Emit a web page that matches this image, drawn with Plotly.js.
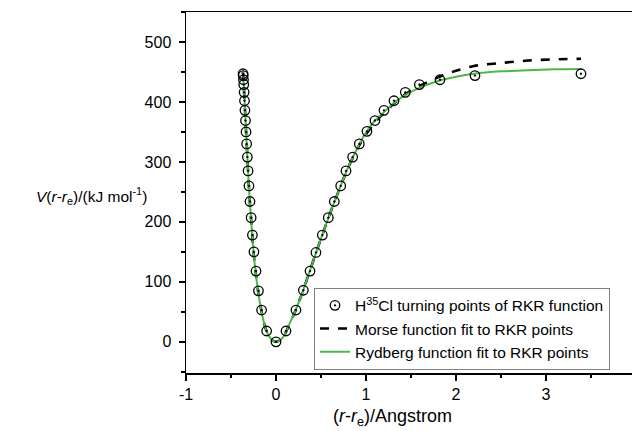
<!DOCTYPE html>
<html>
<head>
<meta charset="utf-8">
<script src="https://cdn.plot.ly/plotly-3.0.1.min.js"></script>
<style>html,body{margin:0;padding:0;overflow:hidden;background:#fff;}</style>
</head>
<body>
<div id="chart" style="width:632px;height:431px;"></div>
<script>
// RKR turning points (inner branch, minimum, outer branch)
const innerX = [-0.366, -0.364, -0.361, -0.358, -0.354, -0.350, -0.345, -0.339, -0.333, -0.326, -0.318, -0.310, -0.300, -0.289, -0.276, -0.262, -0.245, -0.222, -0.195, -0.160, -0.104];
const innerV = [447, 444, 437, 429, 416, 402, 386, 369, 350, 330, 308, 285, 260, 234, 207, 178, 150, 118, 85, 53, 18];
const minX = [0];
const minV = [0];
const outerX = [0.111, 0.222, 0.304, 0.378, 0.444, 0.515, 0.581, 0.648, 0.719, 0.778, 0.852, 0.926, 1.011, 1.100, 1.200, 1.311, 1.437, 1.593, 1.822, 2.211, 3.389];
const outerV = [18, 53, 86, 118, 149, 178, 207, 234, 260, 285, 308, 330, 351, 369, 386, 402, 416, 429, 437, 444, 447];

// Fitted curves
const curveX = [-0.368, -0.364, -0.360, -0.355, -0.348, -0.340, -0.330, -0.318, -0.305, -0.290, -0.272, -0.250, -0.225, -0.195, -0.160, -0.120, -0.080, -0.040, 0, 0.05, 0.10, 0.15, 0.20, 0.25, 0.30, 0.40, 0.50, 0.60, 0.70, 0.80, 0.90, 1.00, 1.10, 1.20, 1.30, 1.40, 1.50, 1.60, 1.80, 2.00, 2.20, 2.50, 2.80, 3.10, 3.39];
const rydbergV = [450, 444, 433, 418, 398, 374, 344, 308, 270, 232, 195, 150, 115, 80, 50, 24, 10, 2.5, 0, 3, 13, 30, 46, 65, 85, 129, 172, 214, 253, 290, 322, 349, 369, 383, 397, 408, 417, 424, 435, 442, 447, 451, 453, 454.5, 455];
const morseV = [450, 444, 433, 418, 398, 374, 344, 308, 270, 232, 195, 150, 115, 80, 50, 24, 10, 2.5, 0, 3, 13, 30, 46, 65, 85, 129, 172, 214, 253, 290, 321, 346, 366, 382, 396, 409, 419, 427, 441, 452, 460, 465, 469, 471, 472];

const legendNames = ["H<sup>35</sup>Cl turning points of RKR function", "Morse function fit to RKR points", "Rydberg function fit to RKR points"];

const pointsX = innerX.concat(minX, outerX);
const pointsV = innerV.concat(minV, outerV);

const FONT = "Liberation Sans, Arial, sans-serif";

const traces = [
  {
    x: curveX, y: morseV, mode: "lines", name: legendNames[1], legendrank: 2,
    line: {color: "#000000", width: 2.6, dash: "dash", shape: "spline", smoothing: 0.6}
  },
  {
    x: curveX, y: rydbergV, mode: "lines", name: legendNames[2], legendrank: 3,
    line: {color: "#4db848", width: 2, shape: "spline", smoothing: 0.6}
  },
  {
    x: pointsX, y: pointsV, mode: "markers", name: legendNames[0], legendrank: 1,
    marker: {symbol: "circle-open-dot", size: 9.5, color: "#000000", line: {width: 1.3, color: "#000000"}}
  }
];

const layout = {
  width: 632, height: 431,
  margin: {l: 186, r: 0, t: 12, b: 58, pad: 0},
  paper_bgcolor: "#ffffff", plot_bgcolor: "#ffffff",
  font: {family: FONT, size: 16, color: "#000000"},
  showlegend: true,
  legend: {
    x: 0.287, y: 0.009, xanchor: "left", yanchor: "bottom",
    bgcolor: "#ffffff", bordercolor: "#808080", borderwidth: 1,
    font: {family: FONT, size: 15.5, color: "#000000"},
    tracegroupgap: 0, itemwidth: 30
  },
  xaxis: {
    range: [-1, 3.956], tickvals: [-1, 0, 1, 2, 3, 4], ticktext: ["-1", "0", "1", "2", "3", "4"],
    ticks: "outside", ticklen: 6, tickwidth: 1.5, tickcolor: "#000",
    showline: true, linecolor: "#000", linewidth: 1.5, mirror: true,
    showgrid: false, zeroline: false,
    tickfont: {family: FONT, size: 16, color: "#000"},
    minor: {dtick: 0.5, tick0: 0, ticks: "outside", ticklen: 3.5, tickwidth: 1.5, tickcolor: "#000", showgrid: false}
  },
  yaxis: {
    range: [-52, 550], tickvals: [0, 100, 200, 300, 400, 500],
    ticks: "outside", ticklen: 6, tickwidth: 1.5, tickcolor: "#000",
    showline: true, linecolor: "#000", linewidth: 1.5, mirror: false,
    showgrid: false, zeroline: false, ticklabelstandoff: 4,
    tickfont: {family: FONT, size: 16, color: "#000"},
    minor: {dtick: 50, tick0: 0, ticks: "outside", ticklen: 3.5, tickwidth: 1.5, tickcolor: "#000", showgrid: false}
  },
  annotations: [
    {
      xref: "paper", yref: "paper", x: -0.211, y: 0.49, xanchor: "center", yanchor: "middle",
      showarrow: false,
      text: "<i>V</i>(<i>r</i>-<i>r</i><sub>e</sub>)/(kJ mol<sup>-1</sup>)",
      font: {family: FONT, size: 15.5, color: "#000"}
    },
    {
      xref: "paper", yref: "paper", x: 0.462, y: -0.124, xanchor: "center", yanchor: "middle",
      showarrow: false,
      text: "(<i>r</i>-<i>r</i><sub>e</sub>)/Angstrom",
      font: {family: FONT, size: 18, color: "#000"}
    }
  ]
};

Plotly.newPlot("chart", traces, layout, {staticPlot: true, displayModeBar: false});
</script>
</body>
</html>
